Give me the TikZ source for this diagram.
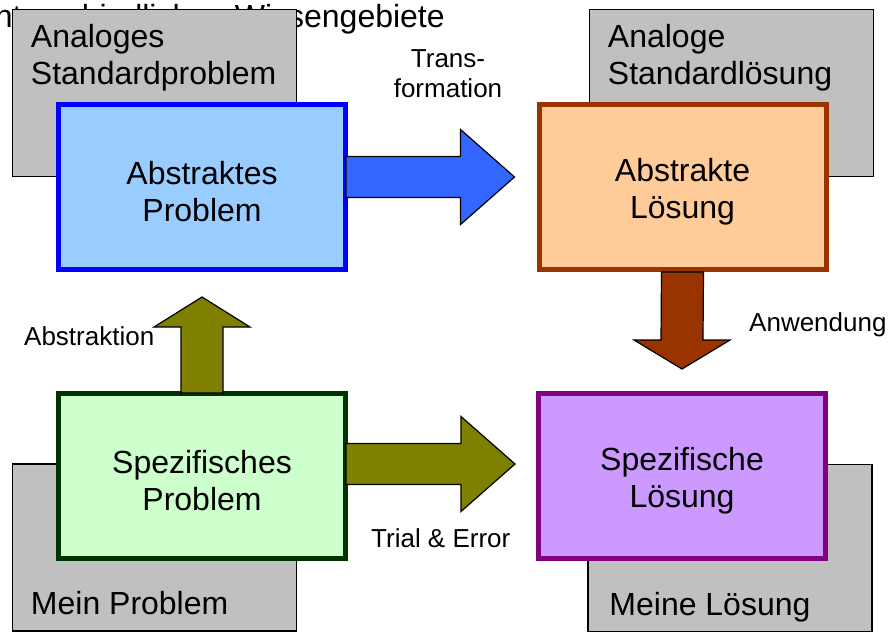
\documentclass[tikz,border=0pt]{standalone}
\usepackage{fontspec}
\setmainfont{Liberation Sans}
\usepackage{xcolor}
\usepackage{tikz}
\usetikzlibrary{arrows,positioning,shapes,calc}

\definecolor{boxgray}{RGB}{192,192,192}
\definecolor{probblue}{RGB}{153,204,255}
\definecolor{lsgorange}{RGB}{255,204,153}
\definecolor{probgreen}{RGB}{204,255,204}
\definecolor{lsgpurple}{RGB}{204,153,255}
\definecolor{arrowblue}{RGB}{51,102,255}
\definecolor{olive}{RGB}{128,128,0}
\definecolor{brown}{RGB}{153,51,0}
\definecolor{darkgreen}{RGB}{0,51,0}
\definecolor{purple}{RGB}{128,0,128}

\newcommand{\bigfont}{\fontsize{32}{37}\selectfont}
\newcommand{\smallfont}{\fontsize{26}{30}\selectfont}

% fat block arrows: start, tip, colour (and head offset for the vertical ones)
\newcommand{\rarrow}[3]{%
  \draw[fatarrow, fill=#3] ($(#1)+(0,-20.5)$) -- ($(#2)+(-54,-20.5)$) -- ($(#2)+(-54,-47.5)$) -- (#2)
    -- ($(#2)+(-54,47.5)$) -- ($(#2)+(-54,20.5)$) -- ($(#1)+(0,20.5)$) -- cycle;}
\newcommand{\varrow}[4]{%
  \draw[fatarrow, fill=#3] ($(#1)+(-21,0)$) -- ($(#2)+(-21,#4)$) -- ($(#2)+(-48,#4)$) -- (#2)
    -- ($(#2)+(48,#4)$) -- ($(#2)+(21,#4)$) -- ($(#1)+(21,0)$) -- cycle;}

\tikzset{
  graybox/.style={rectangle, draw, line width=1.5pt, fill=boxgray, minimum width=284pt, minimum height=167pt},
  probbox/.style={rectangle, draw, line width=5pt, minimum width=287pt, minimum height=165pt,
    label={[align=center, font=\bigfont, yshift=-5pt]center:#1}},
  graytext/.style={align=left, inner sep=0pt, font=\bigfont},
  lbl/.style={inner sep=0pt, align=center, font=\smallfont},
  fatarrow/.style={draw=black, line width=1.2pt, line join=miter}
}

\begin{document}
\begin{tikzpicture}[x=1pt, y=-1pt]
\useasboundingbox (0,0) rectangle (894,633);

\node[inner sep=0pt, font=\bigfont, anchor=base east] (fields) at (445,27) {Unterschiedlichen Wissengebiete};

% gray background boxes
\node[graybox] (stdprob) at (154.5,93) {};
\node[graybox] (stdlsg) at (731.5,93) {};
\node[graybox] (myprob) at (154.5,547.5) {};
\node[graybox] (mylsg) at (730,548) {};

\node[graytext, anchor=base west] (stdprobtxt) at ($(stdprob.north west)+(19,76)$) {Analoges\\Standardproblem};
\node[graytext, anchor=base west] (stdlsgtxt) at ($(stdlsg.north west)+(19,76)$) {Analoge\\Standardlösung};
\node[graytext, anchor=base west] (myprobtxt) at ($(myprob.south west)+(19,-17)$) {Mein Problem};
\node[graytext, anchor=base west] (mylsgtxt) at ($(mylsg.south west)+(22,-17)$) {Meine Lösung};

% problem and solution boxes
\node[probbox={Abstraktes\\Problem}, draw=blue, fill=probblue] (abstprob) at (202,187) {};
\node[probbox={Abstrakte\\Lösung}, draw=brown, fill=lsgorange] (abstlsg) at (682.5,187) {};
\node[probbox={Spezifisches\\Problem}, draw=darkgreen, fill=probgreen] (specprob) at (202,476) {};
\node[probbox={Spezifische\\Lösung}, draw=purple, fill=lsgpurple] (speclsg) at (682,476) {};

% arrows
\rarrow{$(abstprob.east)+(-2,-10)$}{$(abstlsg.west)+(-22,-10)$}{arrowblue}
\rarrow{$(specprob.east)+(-2,-12)$}{$(speclsg.west)+(-21,-12)$}{olive}
\varrow{$(specprob.north)+(0,2)$}{$(abstprob.south)+(0,25)$}{olive}{30}
\varrow{$(abstlsg.south)$}{$(speclsg.north)+(0,-22)$}{brown}{-29}

% labels
\node[lbl, anchor=base] (trafo) at (448,97) {Trans-\\formation};
\node[lbl, anchor=base west] (abstr) at (24,345) {Abstraktion};
\node[lbl, anchor=base west] (anw) at (749,331) {Anwendung};
\node[lbl, anchor=base west] (trial) at (371,547) {Trial \& Error};

\end{tikzpicture}
\end{document}
